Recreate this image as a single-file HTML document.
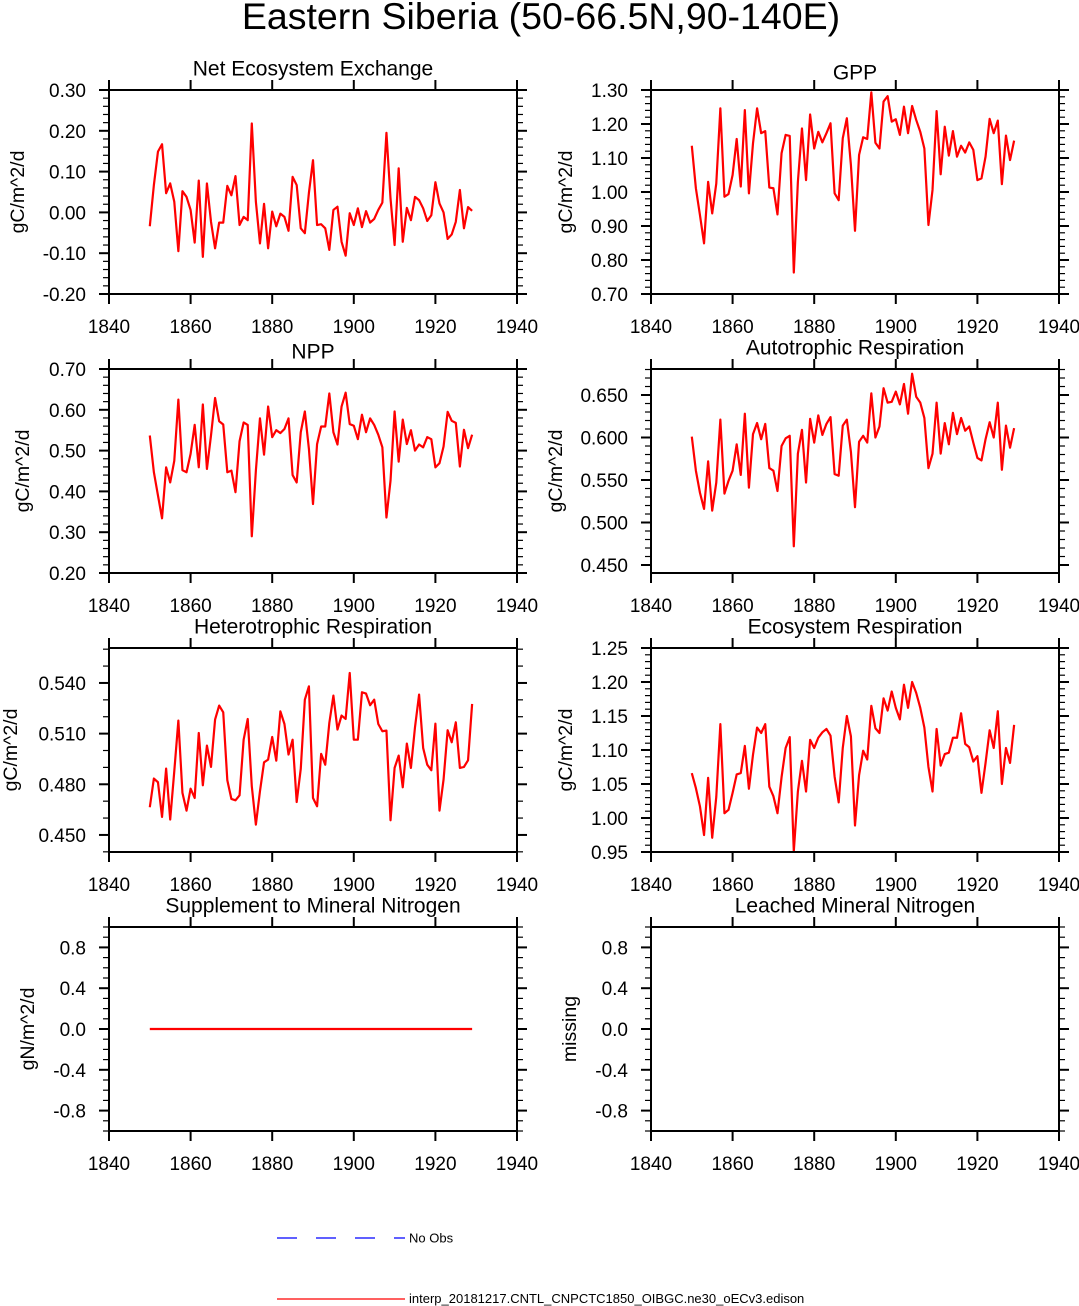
<!DOCTYPE html>
<html><head><meta charset="utf-8"><style>
html,body{margin:0;padding:0;background:#fff}
svg{display:block;font-family:"Liberation Sans",Arial,sans-serif}
</style></head><body>
<svg id="chart" width="1079" height="1306" viewBox="0 0 1079 1306" xmlns="http://www.w3.org/2000/svg">
<text x="541" y="29" text-anchor="middle" font-size="37.5">Eastern Siberia (50-66.5N,90-140E)</text>
<g>
<line x1="277" y1="1238" x2="405" y2="1238" stroke="#0000ff" stroke-width="1.2" stroke-dasharray="20,19"/>
<text x="409" y="1242.5" font-size="13">No Obs</text>
<line x1="277" y1="1299" x2="405" y2="1299" stroke="#ff0000" stroke-width="1.2"/>
<text x="409" y="1303" font-size="13">interp_20181217.CNTL_CNPCTC1850_OIBGC.ne30_oECv3.edison</text>
</g>
</svg>
<script>
const years = [];
for (let y = 1850; y <= 1929; y++) years.push(y);
const xTicks = [1840, 1860, 1880, 1900, 1920, 1940];

const nee = [-0.034,0.067,0.149,0.167,0.047,0.071,0.026,-0.095,0.052,0.038,0.006,-0.074,0.078,-0.109,0.071,-0.023,-0.088,-0.025,-0.025,0.065,0.042,0.089,-0.031,-0.011,-0.019,0.218,0.026,-0.076,0.021,-0.088,0.002,-0.034,-0.003,-0.011,-0.045,0.087,0.067,-0.039,-0.051,0.048,0.128,-0.031,-0.029,-0.039,-0.092,0.006,0.014,-0.072,-0.106,-0.002,-0.031,0.010,-0.036,0.003,-0.025,-0.016,0.006,0.024,0.195,0.034,-0.080,0.108,-0.072,0.011,-0.019,0.038,0.030,0.010,-0.021,-0.007,0.074,0.022,0.000,-0.065,-0.054,-0.023,0.055,-0.039,0.013,0.004];
const gpp = [1.136,1.011,0.932,0.849,1.030,0.937,1.025,1.246,0.986,0.994,1.050,1.156,1.016,1.241,0.996,1.143,1.246,1.173,1.179,1.013,1.011,0.934,1.114,1.168,1.165,0.763,1.030,1.187,1.035,1.228,1.128,1.177,1.146,1.173,1.202,0.996,0.976,1.158,1.217,1.079,0.886,1.109,1.161,1.156,1.293,1.145,1.128,1.266,1.282,1.207,1.214,1.168,1.251,1.173,1.253,1.212,1.177,1.128,0.903,1.006,1.238,1.052,1.192,1.107,1.179,1.104,1.136,1.116,1.146,1.124,1.035,1.040,1.104,1.215,1.173,1.210,1.023,1.166,1.094,1.151];
const npp = [0.537,0.447,0.390,0.334,0.459,0.422,0.475,0.625,0.452,0.447,0.492,0.563,0.459,0.613,0.455,0.537,0.629,0.572,0.564,0.447,0.451,0.398,0.523,0.569,0.563,0.290,0.451,0.579,0.490,0.608,0.533,0.550,0.543,0.553,0.579,0.440,0.422,0.545,0.596,0.504,0.369,0.516,0.559,0.559,0.640,0.545,0.515,0.608,0.642,0.565,0.561,0.528,0.588,0.545,0.579,0.563,0.539,0.508,0.336,0.426,0.596,0.473,0.576,0.516,0.550,0.500,0.515,0.508,0.533,0.528,0.459,0.469,0.510,0.595,0.573,0.568,0.461,0.551,0.506,0.539];
const ar = [0.601,0.561,0.535,0.516,0.572,0.514,0.547,0.621,0.534,0.549,0.561,0.592,0.556,0.628,0.541,0.604,0.617,0.598,0.616,0.564,0.561,0.537,0.590,0.599,0.602,0.472,0.581,0.609,0.547,0.622,0.594,0.626,0.603,0.616,0.624,0.557,0.555,0.614,0.621,0.583,0.518,0.595,0.602,0.594,0.652,0.600,0.613,0.658,0.641,0.642,0.654,0.639,0.663,0.628,0.675,0.648,0.641,0.623,0.564,0.581,0.641,0.581,0.617,0.592,0.629,0.604,0.623,0.608,0.613,0.594,0.576,0.573,0.598,0.618,0.600,0.641,0.562,0.614,0.588,0.611];
const hr = [0.4664,0.4834,0.4812,0.4607,0.4893,0.4591,0.4877,0.5177,0.4749,0.4644,0.4774,0.4719,0.5104,0.4794,0.5029,0.4903,0.5183,0.5266,0.5226,0.4824,0.4713,0.4705,0.4735,0.5064,0.5187,0.4788,0.4561,0.4759,0.4930,0.4946,0.5080,0.4940,0.5232,0.5157,0.4976,0.5064,0.4695,0.4891,0.5301,0.5380,0.4719,0.4670,0.4980,0.4916,0.5163,0.5325,0.5124,0.5207,0.5187,0.5459,0.5064,0.5064,0.5345,0.5337,0.5268,0.5301,0.5157,0.5114,0.5118,0.4587,0.4897,0.4970,0.4782,0.5041,0.4897,0.5138,0.5331,0.5015,0.4916,0.4883,0.5159,0.4644,0.4828,0.5120,0.5049,0.5167,0.4897,0.4903,0.4942,0.5276];
const er = [1.066,1.044,1.017,0.975,1.059,0.971,1.031,1.138,1.007,1.012,1.037,1.064,1.066,1.106,1.043,1.093,1.133,1.125,1.138,1.046,1.032,1.007,1.060,1.103,1.119,0.951,1.039,1.084,1.039,1.115,1.103,1.118,1.126,1.131,1.121,1.061,1.023,1.103,1.150,1.120,0.989,1.063,1.099,1.086,1.165,1.132,1.125,1.176,1.158,1.186,1.162,1.145,1.196,1.162,1.200,1.184,1.162,1.133,1.075,1.039,1.131,1.077,1.094,1.096,1.118,1.118,1.154,1.109,1.104,1.083,1.091,1.037,1.081,1.129,1.103,1.157,1.050,1.103,1.081,1.137];
const snm = years.map(() => 0);

const neeTicks = ["0.30","0.20","0.10","0.00","-0.10","-0.20"];
const gppTicks = ["1.30","1.20","1.10","1.00","0.90","0.80","0.70"];
const nppTicks = ["0.70","0.60","0.50","0.40","0.30","0.20"];
const arTicks = ["0.650","0.600","0.550","0.500","0.450"];
const hrTicks = ["0.540","0.510","0.480","0.450"];
const erTicks = ["1.25","1.20","1.15","1.10","1.05","1.00","0.95"];
const nTicks = ["0.8","0.4","0.0","-0.4","-0.8"];

const NS = "http://www.w3.org/2000/svg";
const svg = document.getElementById("chart");
function mk(tag, attrs, parent) {
  const e = document.createElementNS(NS, tag);
  for (const k in attrs) e.setAttribute(k, attrs[k]);
  parent.appendChild(e);
  return e;
}

const panels = [
  {id:"nee", title:"Net Ecosystem Exchange", ylab:"gC/m^2/d", L:109, T:90, ymin:-0.2, ymax:0.3, minor:0.02, ticks:neeTicks, data:nee, ty:68, yl:17},
  {id:"gpp", title:"GPP", ylab:"gC/m^2/d", L:651, T:90, ymin:0.7, ymax:1.3, minor:0.02, ticks:gppTicks, data:gpp, ty:72, yl:565},
  {id:"npp", title:"NPP", ylab:"gC/m^2/d", L:109, T:369, ymin:0.2, ymax:0.7, minor:0.02, ticks:nppTicks, data:npp, ty:351, yl:22},
  {id:"ar", title:"Autotrophic Respiration", ylab:"gC/m^2/d", L:651, T:369, ymin:0.4406, ymax:0.6806, minor:0.01, ticks:arTicks, data:ar, ty:347, yl:555},
  {id:"hr", title:"Heterotrophic Respiration", ylab:"gC/m^2/d", L:109, T:648, ymin:0.4399, ymax:0.5607, minor:0.01, ticks:hrTicks, data:hr, ty:626, yl:10},
  {id:"er", title:"Ecosystem Respiration", ylab:"gC/m^2/d", L:651, T:648, ymin:0.95, ymax:1.25, minor:0.01, ticks:erTicks, data:er, ty:626, yl:565},
  {id:"snm", title:"Supplement to Mineral Nitrogen", ylab:"gN/m^2/d", L:109, T:927, ymin:-1, ymax:1, minor:0.1, ticks:nTicks, data:snm, ty:905, yl:27},
  {id:"lmn", title:"Leached Mineral Nitrogen", ylab:"missing", L:651, T:927, ymin:-1, ymax:1, minor:0.1, ticks:nTicks, data:null, ty:905, yl:569}
];
const W = 408, H = 204;

panels.forEach(p => {
  const g = mk("g", {}, svg);
  
  
  const xs = v => p.L + (v - 1840) / 100 * W;
  const ys = v => p.T + (p.ymax - v) / (p.ymax - p.ymin) * H;
  const B = p.T + H, R = p.L + W;
  const nMin = Math.ceil(p.ymin / p.minor - 1e-6), nMax = Math.floor(p.ymax / p.minor + 1e-6);
  for (let i = nMin; i <= nMax; i++) {
    const yy = ys(i * p.minor);
    const tk1 = mk("line", {x1:p.L-6, x2:p.L, y1:yy, y2:yy, stroke:"#000", "stroke-width":1.2}, g);
    
    
    const tk2 = mk("line", {x1:R, x2:R+6, y1:yy, y2:yy, stroke:"#000", "stroke-width":1.2}, g);
    
    
  }
  p.ticks.forEach(lbl => {
    const yy = ys(parseFloat(lbl));
    const t1 = mk("line", {x1:p.L-10, x2:p.L, y1:yy, y2:yy, stroke:"#000", "stroke-width":2}, g);
    
    
    const t2 = mk("line", {x1:R, x2:R+10, y1:yy, y2:yy, stroke:"#000", "stroke-width":2}, g);
    
    
    const tx = mk("text", {x:p.L-23, y:yy+7, "text-anchor":"end", "font-size":19}, g);
    tx.textContent = lbl;
    
    
  });
  xTicks.forEach(v => {
    const xx = xs(v);
    const a = mk("line", {x1:xx, x2:xx, y1:B, y2:B+10, stroke:"#000", "stroke-width":2}, g);
    
    
    const b = mk("line", {x1:xx, x2:xx, y1:p.T-10, y2:p.T, stroke:"#000", "stroke-width":2}, g);
    
    
    const tx = mk("text", {x:xx, y:B+39, "text-anchor":"middle", "font-size":19}, g);
    tx.textContent = String(v);
    
    
  });
  if (p.data) {
    const pts = p.data.map((v, i) => xs(years[i]).toFixed(2) + "," + ys(v).toFixed(2)).join(" ");
    const pl = mk("polyline", {points:pts, fill:"none", stroke:"#ff0000", "stroke-width":2.2, "stroke-linejoin":"round"}, g);
    
    
  }
  const fr = mk("rect", {x:p.L, y:p.T, width:W, height:H, fill:"none", stroke:"#000", "stroke-width":2}, g);
  
  
  const tt = mk("text", {x:p.L + W/2, y:p.ty + 7.5, "text-anchor":"middle", "font-size":21}, g);
  tt.textContent = p.title;
  
  
  const cy = p.T + H/2;
  const yt = mk("text", {x:p.yl, y:cy, "text-anchor":"middle", "font-size":19.5, transform:"rotate(-90 " + p.yl + " " + cy + ")", dy:"7"}, g);
  yt.textContent = p.ylab;
  
  
});
</script>
</body></html>
